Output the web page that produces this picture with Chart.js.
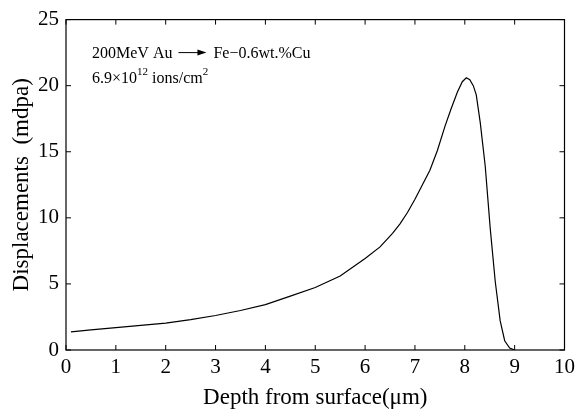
<!DOCTYPE html>
<html>
<head>
<meta charset="UTF-8">
<script src="https://cdn.jsdelivr.net/npm/chart.js@4.4.0/dist/chart.umd.min.js"></script>
<style>
*{margin:0;padding:0}
body{background:#fff;width:580px;height:412px;overflow:hidden}
</style>
</head>
<body>
<canvas id="c" width="580" height="412"></canvas>
<script>
// depth (um) vs displacements (mdpa)
const depth = [0.1,0.5,1,1.5,2,2.5,3,3.5,4,4.5,5,5.5,6,6.3,6.55,6.7,6.85,7.0,7.15,7.3,7.45,7.6,7.72,7.85,7.95,8.03,8.1,8.17,8.23,8.31,8.41,8.51,8.61,8.71,8.8,8.9,9.0];
const dpa = [1.37,1.53,1.69,1.86,2.04,2.3,2.61,2.99,3.43,4.08,4.73,5.6,6.92,7.8,8.83,9.55,10.4,11.4,12.5,13.6,15.1,16.9,18.2,19.5,20.3,20.6,20.45,20.0,19.3,17.2,13.9,9.2,5.2,2.2,0.7,0.15,0];
const xTicks = [0,1,2,3,4,5,6,7,8,9,10];
const yTicks = [0,5,10,15,20,25];

const serif = "'Liberation Serif', 'DejaVu Serif', serif";

// frame on top/right, inward ticks on all four sides, and the annotation
const framePlugin = {
  id: "frame",
  afterDraw(chart) {
    const { ctx, chartArea: a, scales: { x, y } } = chart;
    ctx.save();
    ctx.strokeStyle = "#000";
    ctx.lineWidth = 1.2;
    ctx.strokeRect(a.left, a.top, a.right - a.left, a.bottom - a.top);
    ctx.lineWidth = 1;
    ctx.beginPath();
    xTicks.forEach(v => {
      const px = x.getPixelForValue(v);
      ctx.moveTo(px, a.bottom); ctx.lineTo(px, a.bottom - 5);
      ctx.moveTo(px, a.top); ctx.lineTo(px, a.top + 5);
    });
    yTicks.forEach(v => {
      const py = y.getPixelForValue(v);
      ctx.moveTo(a.left, py); ctx.lineTo(a.left + 5, py);
      ctx.moveTo(a.right, py); ctx.lineTo(a.right - 5, py);
    });
    ctx.stroke();

    // annotation
    ctx.fillStyle = "#000";
    ctx.textBaseline = "alphabetic";
    ctx.font = "16px " + serif;
    let tx = a.left + 26, ty = a.top + 38;
    ctx.fillText("200MeV Au", tx, ty);
    tx += ctx.measureText("200MeV Au").width + 6;
    const ay = ty - 5;
    ctx.beginPath();
    ctx.moveTo(tx, ay); ctx.lineTo(tx + 22, ay);
    ctx.stroke();
    ctx.beginPath();
    ctx.moveTo(tx + 28, ay); ctx.lineTo(tx + 19, ay - 3); ctx.lineTo(tx + 19, ay + 3);
    ctx.closePath(); ctx.fill();
    tx += 35;
    ctx.fillText("Fe\u22120.6wt.%Cu", tx, ty);

    tx = a.left + 26; ty = a.top + 63;
    ctx.fillText("6.9\u00d710", tx, ty);
    tx += ctx.measureText("6.9\u00d710").width;
    ctx.font = "11px " + serif;
    ctx.fillText("12", tx, ty - 8);
    tx += ctx.measureText("12").width + 4;
    ctx.font = "16px " + serif;
    ctx.fillText("ions/cm", tx, ty);
    tx += ctx.measureText("ions/cm").width;
    ctx.font = "11px " + serif;
    ctx.fillText("2", tx, ty - 8);
    ctx.restore();
  }
};

new Chart(document.getElementById("c"), {
  type: "line",
  data: {
    datasets: [{
      data: depth.map((d, i) => ({ x: d, y: dpa[i] })),
      borderColor: "#000",
      borderWidth: 1.2,
      pointRadius: 0,
      tension: 0,
      fill: false
    }]
  },
  options: {
    responsive: false,
    animation: false,
    layout: { padding: { top: 15, right: 14, left: 0, bottom: 0 } },
    plugins: { legend: { display: false }, tooltip: { enabled: false } },
    scales: {
      x: {
        type: "linear", min: 0, max: 10,
        afterBuildTicks: s => { s.ticks = xTicks.map(v => ({ value: v })); },
        afterFit: s => { s.height = 62; },
        grid: { display: false, drawTicks: false },
        border: { display: false },
        ticks: { color: "#000", padding: 5, maxRotation: 0, font: { family: serif, size: 21 } },
        title: { display: true, text: "Depth from surface(\u03bcm)", color: "#000", padding: { top: 2, bottom: 0 }, font: { family: serif, size: 23 } }
      },
      y: {
        type: "linear", min: 0, max: 25,
        afterBuildTicks: s => { s.ticks = yTicks.map(v => ({ value: v })); },
        afterFit: s => { s.width = 66; },
        grid: { display: false, drawTicks: false },
        border: { display: false },
        ticks: { color: "#000", padding: 7, font: { family: serif, size: 21 } },
        title: { display: true, text: "Displacements  (mdpa)", color: "#000", padding: { top: 8, bottom: 0 }, font: { family: serif, size: 23 } }
      }
    }
  },
  plugins: [framePlugin]
});
</script>
</body>
</html>
